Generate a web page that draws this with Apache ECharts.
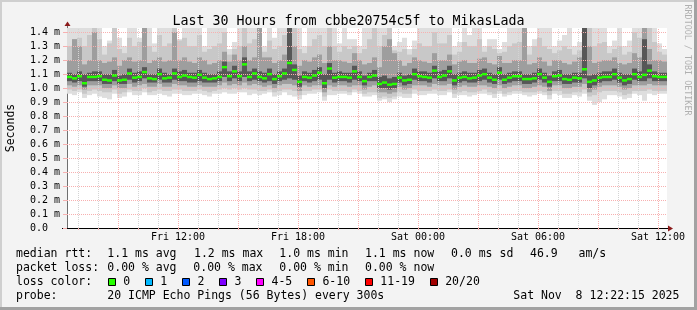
<!DOCTYPE html>
<html><head><meta charset="utf-8">
<script src="https://cdn.jsdelivr.net/npm/echarts@6/dist/echarts.min.js"></script>
<style>html,body{margin:0;padding:0;background:#f3f3f3}#c{width:697px;height:310px}</style>
</head><body><div id="c"></div><script>
// ---------------- data ----------------
const TITLE = 'Last 30 Hours from cbbe20754c5f to MikasLada';
const START_HOUR = 6.45;   // Fri 06:27 (hours since Fri 00:00)
const END_HOUR = 36.45;    // Sat 12:27
const STEP_HOURS = 0.25;   // one smoke column per 15 minutes
const Y_MAX = 1.43;        // ms
const yTickValues = [0, 0.1, 0.2, 0.3, 0.4, 0.5, 0.6, 0.7, 0.8, 0.9, 1.0, 1.1, 1.2, 1.3, 1.4];
const xLabelHours = [12, 18, 24, 30, 36];
const xLabelTexts = ['Fri 12:00', 'Fri 18:00', 'Sat 00:00', 'Sat 06:00', 'Sat 12:00'];

// median rtt (ms) per step
const median = [
 1.08,1.07,1.085,1.035,1.08,1.08,1.085,1.06,1.055,1.09, 1.055,1.06,1.105,1.075,1.08,1.115,1.07,1.065,1.1,1.07, 1.075,1.105,1.08,1.09,1.08,1.075,1.095,1.075,1.065,1.07,
 1.08,1.15,1.085,1.12,1.085,1.17,1.08,1.105,1.08,1.07, 1.1,1.065,1.085,1.105,1.18,1.13,1.045,1.08,1.075,1.09, 1.11,1.035,1.14,1.075,1.08,1.08,1.075,1.12,1.08,1.05,
 1.08,1.09,1.03,1.04,1.025,1.03,1.075,1.055,1.06,1.1, 1.085,1.08,1.075,1.125,1.08,1.09,1.12,1.055,1.075,1.08, 1.07,1.075,1.09,1.1,1.075,1.06,1.11,1.06,1.075,1.085,
 1.085,1.065,1.065,1.07,1.1,1.075,1.045,1.085,1.09,1.065, 1.06,1.075,1.07,1.135,1.045,1.055,1.075,1.08,1.08,1.1, 1.075,1.055,1.065,1.1,1.08,1.095,1.125,1.085,1.08,1.08
];
// smoke: outermost (min..max ping) band
const smokeLoA = [
 0.96,0.95,0.97,0.93,0.95,0.96,0.94,0.93,0.92,0.96, 0.93,0.94,0.97,0.95,0.95,0.97,0.95,0.95,0.96,0.95, 0.94,0.96,0.96,0.95,0.95,0.96,0.96,0.95,0.94,0.96,
 0.96,0.97,0.96,0.96,0.97,0.97,0.95,0.96,0.95,0.96, 0.97,0.94,0.95,0.97,0.95,0.94,0.92,0.95,0.96,0.96, 0.97,0.91,0.95,0.95,0.96,0.96,0.95,0.97,0.96,0.94,
 0.94,0.95,0.91,0.92,0.9,0.92,0.94,0.93,0.93,0.96, 0.95,0.95,0.96,0.96,0.95,0.95,0.97,0.93,0.95,0.95, 0.94,0.95,0.96,0.96,0.95,0.93,0.96,0.94,0.95,0.96,
 0.96,0.95,0.94,0.95,0.96,0.95,0.92,0.96,0.95,0.93, 0.93,0.95,0.94,0.96,0.91,0.88,0.9,0.92,0.95,0.95, 0.94,0.92,0.93,0.96,0.95,0.91,0.96,0.95,0.96,0.96
];
const smokeHiA = [
 1.43,1.43,1.43,1.43,1.43,1.43,1.43,1.3,1.34,1.43, 1.36,1.3,1.43,1.43,1.36,1.43,1.43,1.32,1.43,1.43, 1.43,1.43,1.35,1.43,1.43,1.43,1.43,1.3,1.43,1.43,
 1.43,1.43,1.28,1.33,1.43,1.43,1.43,1.43,1.43,1.3, 1.43,1.36,1.43,1.43,1.43,1.43,1.43,1.3,1.43,1.43, 1.43,1.43,1.43,1.43,1.32,1.43,1.35,1.35,1.3,1.43,
 1.43,1.43,1.43,1.43,1.43,1.3,1.33,1.36,1.28,1.34, 1.43,1.43,1.43,1.43,1.43,1.43,1.43,1.3,1.33,1.43, 1.38,1.43,1.43,1.3,1.35,1.35,1.28,1.33,1.43,1.43,
 1.43,1.43,1.3,1.35,1.43,1.43,1.43,1.3,1.34,1.38, 1.43,1.3,1.33,1.43,1.43,1.43,1.43,1.43,1.3,1.34, 1.43,1.3,1.34,1.43,1.43,1.43,1.43,1.43,1.32,1.28
];
const smokeLoB = [
 0.99,0.98,0.99,0.96,0.98,0.99,0.98,0.97,0.97,0.99, 0.96,0.97,0.99,0.98,0.98,1.0,0.97,0.98,0.99,0.98, 0.98,0.99,0.99,0.98,0.98,0.98,0.99,0.98,0.97,0.98,
 0.99,1.0,0.99,1.0,0.99,1.0,0.99,0.99,0.98,0.98, 0.99,0.97,0.98,0.99,0.99,0.98,0.95,0.98,0.98,0.99, 0.99,0.94,0.99,0.98,0.98,0.98,0.97,0.99,0.98,0.96,
 0.97,0.97,0.93,0.94,0.93,0.94,0.97,0.96,0.96,0.99, 0.98,0.98,0.98,0.99,0.98,0.98,0.99,0.96,0.97,0.98, 0.97,0.97,0.98,0.99,0.97,0.96,0.98,0.96,0.97,0.98,
 0.98,0.97,0.97,0.97,0.98,0.97,0.95,0.98,0.98,0.96, 0.96,0.97,0.97,0.99,0.94,0.95,0.97,0.98,0.98,0.98, 0.97,0.95,0.96,0.98,0.98,0.98,0.99,0.98,0.98,0.98
];
const smokeHiB = [
 1.3,1.35,1.36,1.3,1.38,1.43,1.35,1.24,1.32,1.43, 1.28,1.25,1.36,1.3,1.33,1.43,1.3,1.26,1.38,1.3, 1.32,1.43,1.34,1.36,1.3,1.3,1.38,1.26,1.28,1.3,
 1.32,1.4,1.24,1.28,1.3,1.43,1.32,1.35,1.43,1.26, 1.34,1.28,1.3,1.38,1.43,1.43,1.28,1.25,1.3,1.35, 1.38,1.3,1.43,1.3,1.26,1.3,1.28,1.3,1.25,1.28,
 1.35,1.43,1.3,1.38,1.43,1.27,1.26,1.28,1.24,1.28, 1.32,1.3,1.3,1.4,1.32,1.32,1.38,1.24,1.26,1.33, 1.3,1.3,1.35,1.26,1.3,1.28,1.25,1.26,1.3,1.32,
 1.33,1.43,1.24,1.3,1.36,1.3,1.28,1.25,1.27,1.3, 1.28,1.24,1.27,1.43,1.43,1.3,1.32,1.33,1.25,1.28, 1.3,1.24,1.26,1.4,1.36,1.43,1.43,1.33,1.26,1.24
];
const smokeLoC = [
 1.02,1.01,1.02,0.99,1.02,1.02,1.02,1.0,1.0,1.02, 1.0,1.0,1.03,1.01,1.02,1.03,1.01,1.01,1.03,1.01, 1.01,1.03,1.02,1.02,1.01,1.01,1.02,1.01,1.01,1.01,
 1.02,1.04,1.02,1.03,1.02,1.04,1.02,1.03,1.02,1.01, 1.02,1.0,1.02,1.03,1.03,1.02,0.98,1.02,1.01,1.02, 1.02,0.97,1.02,1.01,1.02,1.02,1.01,1.02,1.02,0.99,
 1.01,1.02,0.97,0.97,0.96,0.97,1.01,0.99,1.0,1.02, 1.02,1.02,1.01,1.03,1.02,1.02,1.03,0.99,1.01,1.02, 1.01,1.01,1.02,1.02,1.01,1.0,1.02,1.0,1.01,1.02,
 1.02,1.0,1.0,1.01,1.02,1.01,0.98,1.02,1.02,1.0, 1.0,1.01,1.01,1.03,0.97,0.99,1.01,1.02,1.02,1.02, 1.01,0.99,1.0,1.02,1.02,1.02,1.03,1.02,1.02,1.02
];
const smokeHiC = [
 1.2,1.35,1.3,1.17,1.2,1.4,1.2,1.18,1.19,1.22, 1.16,1.2,1.22,1.19,1.2,1.43,1.18,1.2,1.22,1.19, 1.2,1.4,1.2,1.22,1.19,1.18,1.22,1.2,1.17,1.18,
 1.2,1.26,1.19,1.24,1.2,1.3,1.2,1.22,1.43,1.22, 1.22,1.18,1.2,1.24,1.43,1.3,1.16,1.2,1.19,1.22, 1.24,1.18,1.3,1.2,1.2,1.19,1.18,1.25,1.2,1.17,
 1.18,1.22,1.15,1.3,1.35,1.25,1.2,1.16,1.18,1.22, 1.2,1.19,1.18,1.25,1.2,1.2,1.24,1.17,1.19,1.2, 1.18,1.18,1.21,1.22,1.18,1.17,1.23,1.18,1.18,1.2,
 1.2,1.43,1.17,1.18,1.22,1.19,1.16,1.2,1.2,1.18, 1.17,1.19,1.22,1.43,1.3,1.18,1.19,1.2,1.2,1.22, 1.18,1.17,1.18,1.25,1.22,1.43,1.28,1.2,1.2,1.19
];
const smokeLoD = [
 1.05,1.04,1.05,1.01,1.05,1.05,1.05,1.03,1.03,1.05, 1.03,1.03,1.06,1.04,1.05,1.07,1.04,1.04,1.06,1.04, 1.04,1.06,1.05,1.05,1.04,1.04,1.05,1.04,1.04,1.04,
 1.05,1.08,1.05,1.07,1.05,1.08,1.05,1.06,1.05,1.04, 1.05,1.03,1.05,1.06,1.07,1.06,1.01,1.05,1.04,1.05, 1.06,1.0,1.06,1.04,1.05,1.05,1.04,1.06,1.05,1.02,
 1.05,1.05,1.0,1.0,0.99,1.0,1.04,1.02,1.03,1.06, 1.05,1.05,1.04,1.07,1.05,1.05,1.07,1.02,1.04,1.05, 1.04,1.04,1.05,1.06,1.04,1.03,1.06,1.03,1.04,1.05,
 1.05,1.03,1.03,1.04,1.06,1.04,1.01,1.05,1.05,1.03, 1.03,1.04,1.04,1.07,1.0,1.02,1.04,1.05,1.05,1.06, 1.04,1.02,1.03,1.06,1.05,1.05,1.07,1.05,1.05,1.05
];
const smokeHiD = [
 1.11,1.1,1.12,1.1,1.11,1.12,1.12,1.1,1.1,1.13, 1.09,1.1,1.14,1.11,1.12,1.15,1.1,1.1,1.14,1.11, 1.1,1.14,1.12,1.13,1.11,1.11,1.13,1.11,1.1,1.1,
 1.12,1.19,1.12,1.16,1.12,1.22,1.12,1.14,1.12,1.11, 1.14,1.1,1.12,1.14,1.43,1.17,1.09,1.12,1.11,1.13, 1.15,1.1,1.18,1.11,1.12,1.11,1.11,1.16,1.12,1.09,
 1.11,1.13,1.08,1.09,1.07,1.08,1.11,1.09,1.1,1.14, 1.12,1.12,1.11,1.16,1.12,1.13,1.16,1.1,1.11,1.12, 1.11,1.11,1.13,1.14,1.11,1.1,1.15,1.1,1.11,1.12,
 1.12,1.1,1.1,1.11,1.14,1.11,1.09,1.12,1.13,1.1, 1.1,1.11,1.11,1.43,1.09,1.1,1.11,1.12,1.12,1.14, 1.11,1.1,1.1,1.14,1.12,1.35,1.17,1.12,1.11,1.11
];

// legend texts
const rttLabel = 'median rtt:';
const rttStats = ['1.1 ms avg', '1.2 ms max', '1.0 ms min', '1.1 ms now', '0.0 ms sd', '46.9   am/s'];
const lossLabel = 'packet loss:';
const lossStats = ['0.00 % avg', '0.00 % max', '0.00 % min', '0.00 % now'];
const lossColorLabel = 'loss color:';
const lossNames = ['0', '1', '2', '3', '4-5', '6-10', '11-19', '20/20'];
const lossColors = ['#26ff00', '#00b8ff', '#0059ff', '#7e00ff', '#ff00ff', '#ff5500', '#ff0000', '#a10000'];
const probeLabel = 'probe:';
const probeText = '20 ICMP Echo Pings (56 Bytes) every 300s';
const stampText = 'Sat Nov  8 12:22:15 2025';

// ---------------- build ----------------
const MONO = '"DejaVu Sans Mono", monospace';
const SMOKE_COLORS = ['#dedede', '#c8c8c8', '#9e9e9e', '#575757'];
const PINK = '#f7b0b0';
const GRAYGRID = '#d4d4d4';

const smokeData = median.map((m, i) => [START_HOUR + i * STEP_HOURS,
  smokeLoA[i], smokeHiA[i], smokeLoB[i], smokeHiB[i], smokeLoC[i], smokeHiC[i], smokeLoD[i], smokeHiD[i]]);
const medianData = median.map((m, i) => [START_HOUR + i * STEP_HOURS, m]);

function renderSmoke(params, api) {
  const t = api.value(0);
  const children = [];
  for (let k = 0; k < 4; k++) {
    const lo = api.value(1 + 2 * k), hi = api.value(2 + 2 * k);
    const a = api.coord([t, hi]), b = api.coord([t + STEP_HOURS, lo]);
    children.push({type: 'rect', shape: {x: a[0], y: a[1], width: b[0] - a[0], height: b[1] - a[1]},
      style: {fill: SMOKE_COLORS[k]}});
  }
  return {type: 'group', children};
}
function renderMedian(params, api) {
  const t = api.value(0), m = api.value(1);
  const a = api.coord([t, m]), b = api.coord([t + STEP_HOURS, m]);
  return {type: 'rect', shape: {x: a[0], y: a[1] - 1.25, width: b[0] - a[0], height: 2.5},
    style: {fill: lossColors[0]}};
}

const gridHours = [];
for (let h = Math.ceil(START_HOUR); h <= END_HOUR; h++) gridHours.push(h);
const gridLines = [];
gridHours.forEach(h => gridLines.push({xAxis: h, lineStyle: {color: h % 3 === 0 ? PINK : GRAYGRID, type: [1, 1], width: 1}}));
yTickValues.slice(1).forEach(v => gridLines.push({yAxis: v, lineStyle: {color: PINK, type: [1, 1], width: 1}}));

// legend graphics
const CW = 6.95;
const g = [];
function txt(x, y, s) {
  g.push({type: 'text', x, y, style: {text: s, font: '11.5px ' + MONO, fill: '#000', verticalAlign: 'middle', textVerticalAlign: 'middle'}});
}
const L1 = 254.5, L2 = 268.5, L3 = 282.3, L4 = 296.2;
txt(16, L1, rttLabel);
[107.3, 194, 279.3, 365, 451, 530].forEach((x, i) => txt(x, L1, rttStats[i]));
txt(16, L2, lossLabel);
[107.3, 193.3, 279.3, 365].forEach((x, i) => txt(x, L2, lossStats[i]));
txt(16, L3, lossColorLabel);
let bx = 108.3;
lossNames.forEach((n, i) => {
  g.push({type: 'rect', shape: {x: Math.round(bx) + 0.5, y: 278.5, width: 7, height: 7},
    style: {fill: lossColors[i], stroke: '#000', lineWidth: 1}});
  txt(bx + 15, L3, n);
  bx = bx + 15 + n.length * CW + 15.1;
});
txt(16, L4, probeLabel);
txt(107.3, L4, probeText);
txt(513.3, L4, stampText);
// watermark
g.push({type: 'text', x: 687.5, y: 60, rotation: -Math.PI / 2,
  style: {text: 'RRDTOOL / TOBI OETIKER', font: '8.4px ' + MONO, fill: '#b0b0b0', align: 'center', textAlign: 'center', verticalAlign: 'middle', textVerticalAlign: 'middle'}});
// frame
g.push({type: 'rect', shape: {x: 0, y: 0, width: 697, height: 2}, style: {fill: '#cfcfcf'}});
g.push({type: 'rect', shape: {x: 0, y: 0, width: 2, height: 310}, style: {fill: '#cfcfcf'}});
g.push({type: 'rect', shape: {x: 0, y: 307, width: 697, height: 3}, style: {fill: '#a2a2a2'}});
g.push({type: 'rect', shape: {x: 694, y: 0, width: 3, height: 310}, style: {fill: '#a2a2a2'}});
// axis arrows
g.push({type: 'line', shape: {x1: 67.5, y1: 28, x2: 67.5, y2: 25}, style: {stroke: '#707070', lineWidth: 1}});
g.push({type: 'polygon', shape: {points: [[64.5, 26], [67.5, 21.5], [70.5, 26]]}, style: {fill: '#8b1a1a'}});
g.push({type: 'line', shape: {x1: 62, y1: 228.5, x2: 67, y2: 228.5}, style: {stroke: '#000', lineWidth: 1}});
g.push({type: 'line', shape: {x1: 667, y1: 228.5, x2: 669, y2: 228.5}, style: {stroke: '#000', lineWidth: 1}});
g.push({type: 'polygon', shape: {points: [[668, 225.5], [673, 228.5], [668, 231.5]]}, style: {fill: '#8b1a1a'}});

const chart = echarts.init(document.getElementById('c'), null, {renderer: 'canvas'});
chart.setOption({
  backgroundColor: '#f3f3f3',
  animation: false,
  title: {text: TITLE, left: 'center', top: 10,
    textStyle: {fontFamily: MONO, fontSize: 13.3, fontWeight: 'normal', color: '#000'}},
  grid: {left: 67, right: 30, top: 28, bottom: 82, show: true, backgroundColor: '#ffffff', borderWidth: 0,
    containLabel: false, outerBoundsMode: 'none'},
  xAxis: {type: 'value', min: START_HOUR, max: END_HOUR,
    axisLine: {show: true, onZero: false, lineStyle: {color: '#000', width: 1}},
    axisTick: {show: true, customValues: gridHours, length: 2, lineStyle: {color: PINK}},
    axisLabel: {customValues: xLabelHours, formatter: v => xLabelTexts[xLabelHours.indexOf(v)] || '',
      fontFamily: MONO, fontSize: 10, color: '#000', margin: 4},
    splitLine: {show: false}},
  yAxis: {type: 'value', min: 0, max: Y_MAX,
    name: 'Seconds', nameLocation: 'middle', nameGap: 50, nameRotate: 90,
    nameTextStyle: {fontFamily: MONO, fontSize: 11.5, color: '#000'},
    axisLine: {show: true, lineStyle: {color: '#707070', width: 1}},
    axisTick: {show: true, customValues: yTickValues, length: 4, lineStyle: {color: PINK}},
    axisLabel: {customValues: yTickValues, formatter: v => v === 0 ? '0.0  ' : v.toFixed(1) + ' m',
      fontFamily: MONO, fontSize: 10, color: '#000', margin: 7},
    splitLine: {show: false}},
  series: [
    {type: 'custom', renderItem: renderSmoke, data: smokeData, z: 2, silent: true,
      encode: {x: 0, y: [1, 2]}},
    {type: 'line', data: [], z: 4, silent: true,
      markLine: {silent: true, symbol: ['none', 'none'], label: {show: false}, animation: false, data: gridLines}},
    {type: 'custom', renderItem: renderMedian, data: medianData, z: 6, silent: true,
      encode: {x: 0, y: 1}}
  ],
  graphic: {elements: g}
});
</script></body></html>
